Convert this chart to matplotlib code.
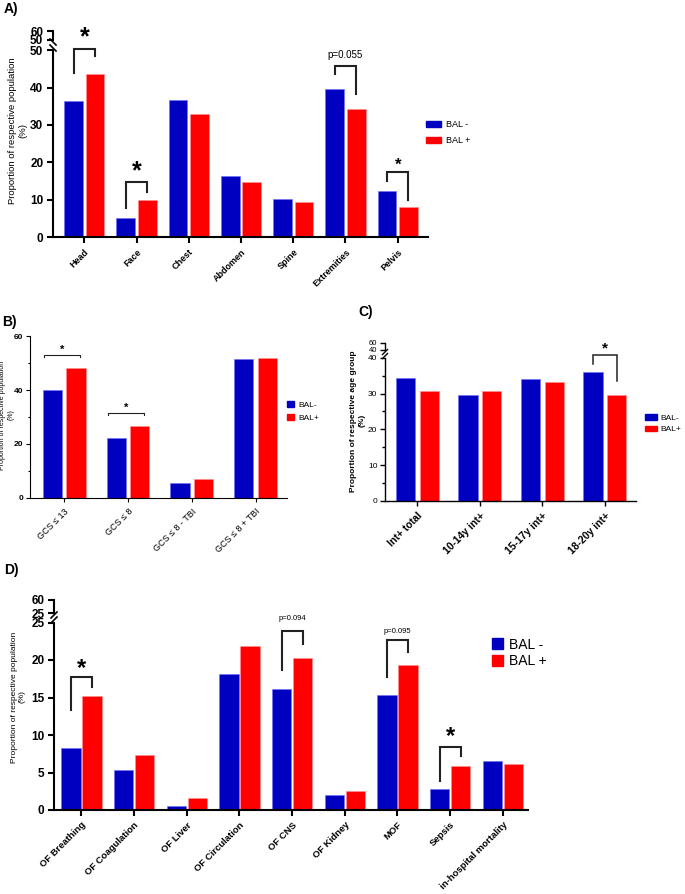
import numpy as np
import matplotlib
matplotlib.use("Agg")
import matplotlib.pyplot as plt
from matplotlib.lines import Line2D
from matplotlib.patches import Patch


# -----------------------------
# Data
# -----------------------------
A_CATS = ["Head", "Face", "Chest", "Abdomen", "Spine", "Extremities", "Pelvis"]
A_NEG = [36.5, 5.1, 36.7, 16.3, 10.1, 39.7, 12.4]
A_POS = [43.5, 9.9, 33.0, 14.6, 9.4, 34.2, 7.9]

B_CATS = ["GCS ≤ 13", "GCS ≤ 8", "GCS ≤ 8 - TBI", "GCS ≤ 8 + TBI"]
B_NEG = [39.9, 22.2, 5.3, 51.5]
B_POS = [48.1, 26.7, 7.0, 52.1]

C_CATS = ["Int+ total", "10-14y int+", "15-17y int+", "18-20y int+"]
C_NEG = [34.5, 29.7, 34.1, 36.0]
C_POS = [30.8, 30.8, 33.3, 29.7]

D_CATS = ["OF Breathing", "OF Coagulation", "OF Liver", "OF Circulation",
          "OF CNS", "OF Kidney", "MOF", "Sepsis", "in-hospital mortality"]
D_NEG = [8.3, 5.4, 0.5, 18.1, 16.1, 2.0, 15.3, 2.8, 6.6]
D_POS = [15.2, 7.4, 1.6, 21.9, 20.3, 2.6, 19.4, 5.9, 6.1]

# significance brackets: category, top, left leg end, right leg end, label, label y, size
A_SIG = [(0, 50.3, 44.0, 48.5, "*", 53.5, 18),
         (1, 14.7, 7.8, 12.1, "*", 17.5, 18),
         (5, 45.8, 43.5, 38.4, "p=0.055", 48.7, 7),
         (6, 17.4, 15.0, 9.8, "*", 19.2, 12)]
C_SIG = [(3, 40.9, 38.2, 33.6, "*", 42.6, 11)]
D_SIG = [(0, 17.7, 13.4, 16.4, "*", 18.8, 17),
         (4, 23.9, 18.7, 22.1, "p=0.094", 25.6, 5.5),
         (6, 22.7, 17.7, 21.1, "p=0.095", 23.8, 5.5),
         (7, 8.4, 3.9, 7.2, "*", 9.8, 17)]
# panel B uses flat brackets: category, height, label y
B_SIG = [(0, 53.0, 55.0), (1, 31.6, 33.6)]

W, H = 685, 894
BLUE = "#0000C0"
RED = "#FF0000"

plt.rcParams["font.family"] = ["Liberation Sans", "DejaVu Sans"]


# -----------------------------
# Helpers
# -----------------------------
def box(x0, y0, x1, y1):
    return [x0 / W, 1 - y1 / H, (x1 - x0) / W, (y1 - y0) / H]


def style(ax, lw, ticklen, size, bold, pad=3.0):
    for s in ["top", "right"]:
        ax.spines[s].set_visible(False)
    ax.spines["left"].set_linewidth(lw)
    ax.spines["bottom"].set_linewidth(lw)
    ax.tick_params(width=lw, length=ticklen)
    ax.tick_params(axis="y", labelsize=size, pad=pad)
    ax.tick_params(which="minor", width=lw, length=ticklen * 0.6)
    if bold:
        for lab in ax.get_yticklabels():
            lab.set_fontweight("bold")
    ax.patch.set_visible(False)


def draw_bars(ax, neg, pos, width, offset):
    x = np.arange(len(neg))
    ax.bar(x - offset, neg, width, color=BLUE, edgecolor="#7070ff", linewidth=0.4)
    ax.bar(x + offset, pos, width, color=RED, edgecolor="#ff9090", linewidth=0.4)
    return x


def xlabels(ax, x, cats, size, weight="bold"):
    ax.set_xticks(x)
    ax.set_xticklabels(cats, rotation=45, ha="right", rotation_mode="anchor",
                       fontsize=size, fontweight=weight)


def top_segment(fig, x0, x1, y_top, y_bot, lo, hi, lw, ticklen, size, bold, pad=3.0):
    ax = fig.add_axes(box(x0, y_top, x1, y_bot))
    ax.set_ylim(lo, hi)
    ax.set_xlim(0, 1)
    for s in ["top", "right", "bottom"]:
        ax.spines[s].set_visible(False)
    ax.spines["left"].set_linewidth(lw)
    ax.set_xticks([])
    ax.set_yticks([lo, hi])
    ax.tick_params(width=lw, length=ticklen, labelsize=size, pad=pad)
    if bold:
        for lab in ax.get_yticklabels():
            lab.set_fontweight("bold")
    ax.patch.set_visible(False)
    return ax


def slash(fig, x, y, dx, dy, lw):
    fig.add_artist(Line2D([(x - dx) / W, (x + dx) / W],
                          [1 - (y - dy) / H, 1 - (y + dy) / H],
                          color="k", lw=lw))


def brackets(ax, items, off, lw):
    for i, top, yl, yr, label, ly, fs in items:
        ax.plot([i - off, i - off, i + off, i + off], [yl, top, top, yr],
                color="#222222", lw=lw, clip_on=False, solid_joinstyle="miter")
        weight = "bold" if label == "*" else "normal"
        ax.text(i, ly, label, ha="center", va="center", fontsize=fs,
                fontweight=weight, clip_on=False)


def legend(ax, fig, labels, x, y, size, hl, hh, ls, tp):
    handles = [Patch(color=BLUE, label=labels[0]), Patch(color=RED, label=labels[1])]
    ax.legend(handles=handles, loc="center left", bbox_to_anchor=(x / W, 1 - y / H),
              bbox_transform=fig.transFigure, frameon=False, fontsize=size,
              handlelength=hl, handleheight=hh, labelspacing=ls, handletextpad=tp,
              borderpad=0, borderaxespad=0)


# -----------------------------
# Figure
# -----------------------------
fig = plt.figure(figsize=(W / 100, H / 100), dpi=100)

# ---- Panel A
ax = fig.add_axes(box(53, 50.2, 428, 237))
x = draw_bars(ax, A_NEG, A_POS, 0.36, 0.205)
ax.set_xlim(-0.6, 6.58)
ax.set_ylim(0, 50)
ax.set_yticks([0, 10, 20, 30, 40, 50])
style(ax, 1.5, 4, 8.5, True)
xlabels(ax, x, A_CATS, 6.5)
brackets(ax, A_SIG, 0.205, 1.5)
legend(ax, fig, ["BAL -", "BAL +"], 426, 132.5, 6.5, 1.67, 0.67, 0.8, 0.55)
top_segment(fig, 53, 428, 31, 40, 50, 60, 1.5, 4, 8.5, True)
slash(fig, 53, 42, 3, 3, 1.2)
slash(fig, 53, 48, 3, 3, 1.2)
fig.text(18 / W, 1 - 131 / H, "Proportion of respective population\n(%)",
         rotation=90, ha="center", va="center", fontsize=6.8)
fig.text(4 / W, 1 - 9 / H, "A)", fontsize=10, fontweight="bold", va="center")

# ---- Panel B
ax = fig.add_axes(box(29.7, 336.4, 287, 497.7))
x = draw_bars(ax, B_NEG, B_POS, 0.30, 0.185)
ax.set_xlim(-0.54, 3.49)
ax.set_ylim(0, 60)
ax.set_yticks([0, 20, 40, 60])
ax.set_yticks([10, 30, 50], minor=True)
style(ax, 0.8, 3, 6, True, pad=1.5)
xlabels(ax, x, B_CATS, 6.5, "normal")
for i, hgt, ly in B_SIG:
    ax.plot([i - 0.32, i - 0.32, i + 0.25, i + 0.25], [hgt - 0.8, hgt, hgt, hgt - 0.8],
            color="#222222", lw=0.8, clip_on=False)
    ax.text(i - 0.035, ly, "*", ha="center", va="center", fontsize=8,
            fontweight="bold", clip_on=False)
legend(ax, fig, ["BAL-", "BAL+"], 287, 411.3, 6, 0.85, 0.85, 0.6, 0.57)
fig.text(7 / W, 1 - 415 / H, "Proportion of respective population\n(%)",
         rotation=90, ha="center", va="center", fontsize=5)
fig.text(2 / W, 1 - 322 / H, "B)", fontsize=10, fontweight="bold", va="center")

# ---- Panel C
ax = fig.add_axes(box(385, 357.9, 636, 500.7))
x = draw_bars(ax, C_NEG, C_POS, 0.31, 0.19)
ax.set_xlim(-0.52, 3.5)
ax.set_ylim(0, 40)
ax.set_yticks([0, 10, 20, 30, 40])
ax.set_yticks([5, 15, 25, 35], minor=True)
style(ax, 1.0, 3.5, 6, False, pad=2)
xlabels(ax, x, C_CATS, 7.5)
brackets(ax, C_SIG, 0.19, 1.1)
legend(ax, fig, ["BAL-", "BAL+"], 645, 423.7, 6, 1.45, 0.7, 0.45, 0.45)
top_segment(fig, 385, 636, 342.6, 350, 40, 60, 1.0, 3.5, 5.5, False, pad=2)
slash(fig, 385, 352, 2.5, -2.5, 1.0)
slash(fig, 385, 356, 2.5, -2.5, 1.0)
fig.text(357.7 / W, 1 - 420.8 / H, "Proportion of respective age group\n(%)",
         rotation=90, ha="center", va="center", fontsize=6, fontweight="bold")
fig.text(358 / W, 1 - 312 / H, "C)", fontsize=10, fontweight="bold", va="center")

# ---- Panel D
ax = fig.add_axes(box(54, 622.5, 528, 810))
x = draw_bars(ax, D_NEG, D_POS, 0.367, 0.2)
ax.set_xlim(-0.52, 8.48)
ax.set_ylim(0, 25)
ax.set_yticks([0, 5, 10, 15, 20, 25])
style(ax, 1.5, 4, 8.5, True)
xlabels(ax, x, D_CATS, 6.8)
brackets(ax, D_SIG, 0.2, 1.5)
legend(ax, fig, ["BAL -", "BAL +"], 492, 652.9, 10, 0.8, 0.85, 0.2, 0.45)
top_segment(fig, 54, 528, 600, 613, 25, 60, 1.5, 4, 8.5, True)
slash(fig, 54, 615, 3, -3, 1.2)
slash(fig, 54, 620, 3, -3, 1.2)
fig.text(18.5 / W, 1 - 697 / H, "Proportion of respective population\n(%)",
         rotation=90, ha="center", va="center", fontsize=6)
fig.text(4 / W, 1 - 570 / H, "D)", fontsize=10, fontweight="bold", va="center")

fig.savefig("out.png", dpi=100)
